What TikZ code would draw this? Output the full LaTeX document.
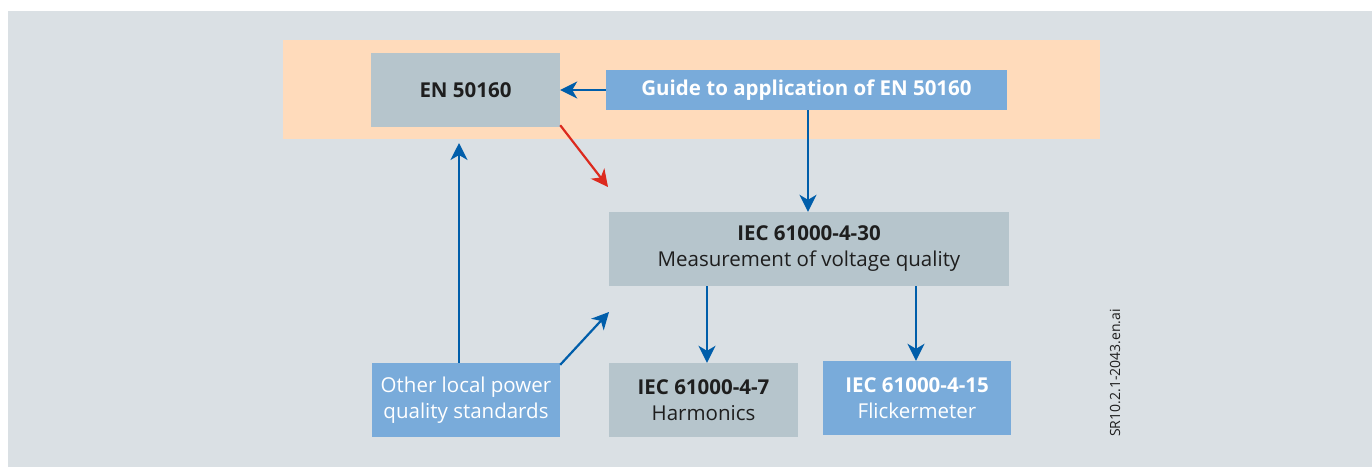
\documentclass[tikz,border=0pt]{standalone}
\usepackage{fontspec}
\setmainfont{Open Sans}
\usetikzlibrary{arrows.meta}
\definecolor{bggray}{HTML}{DAE0E4}
\definecolor{peach}{HTML}{FFDBBB}
\definecolor{boxgray}{HTML}{B6C5CC}
\definecolor{boxblue}{HTML}{79ABDA}
\definecolor{arrblue}{HTML}{005EAA}
\definecolor{arrred}{HTML}{DC2A1E}
\definecolor{txtdark}{HTML}{1E1E1E}
\begin{document}
\begin{tikzpicture}[x=1pt,y=-1pt,
  graybox/.style={fill=boxgray,inner sep=0pt,text=txtdark,align=center},
  bluebox/.style={fill=boxblue,inner sep=0pt,text=white,align=center},
  conn/.style={draw=arrblue,line width=2.2pt,-{Stealth[length=17pt,width=17pt,inset=5pt]}},
  redconn/.style={draw=arrred,line width=2.2pt,-{Stealth[length=17pt,width=17pt,inset=5pt]}},
  lbl/.style={font=\fontsize{20.5}{26}\selectfont}
]
\useasboundingbox (0,0) rectangle (1372,467);
\fill[white] (0,0) rectangle (1372,467);
\fill[bggray] (8,11) rectangle (1372,467);
\fill[peach] (283,40) rectangle (1100,139);
% nodes
\node[graybox,minimum width=189pt,minimum height=74pt,font=\fontsize{20.5}{26}\selectfont\bfseries] (en) at (465.5,90) {EN 50160};
\node[bluebox,minimum width=401pt,minimum height=40pt,font=\fontsize{20.5}{26}\selectfont\bfseries] (guide) at (806.5,90) {Guide to application of EN 50160};
\node[graybox,minimum width=400pt,minimum height=74pt,lbl] (iec30) at (809,249) {\textbf{IEC 61000-4-30}\\Measurement of voltage quality};
\node[bluebox,minimum width=188pt,minimum height=74pt,lbl] (other) at (466,400) {Other local power\\quality standards};
\node[graybox,minimum width=189pt,minimum height=74pt,lbl] (harm) at (703.5,400) {\textbf{IEC 61000-4-7}\\Harmonics};
\node[bluebox,minimum width=188pt,minimum height=74pt,lbl] (flick) at (917,398) {\textbf{IEC 61000-4-15}\\Flickermeter};
\node[rotate=90,text=txtdark,font=\fontsize{14}{16}\selectfont,inner sep=0pt] (ref) at (1115,373) {SR10.2.1-2043.en.ai};
% connectors
\coordinate (redtip) at (608,187);
\coordinate (othertip) at (609,312);
\draw[conn] (guide.west) -- (en.east);
\draw[redconn] (en.south east) ++(0,-2) -- (redtip);
\draw[conn] (guide.south -| 808,0) -- (iec30.north -| 808,0);
\draw[conn] (other.north -| 459,0) -- (459,143);
\draw[conn] (other.north east) ++(0,2) -- (othertip);
\draw[conn] (iec30.south -| 707,0) -- (harm.north -| 707,0);
\draw[conn] (iec30.south -| 916,0) -- (flick.north -| 916,0);
\end{tikzpicture}
\end{document}
